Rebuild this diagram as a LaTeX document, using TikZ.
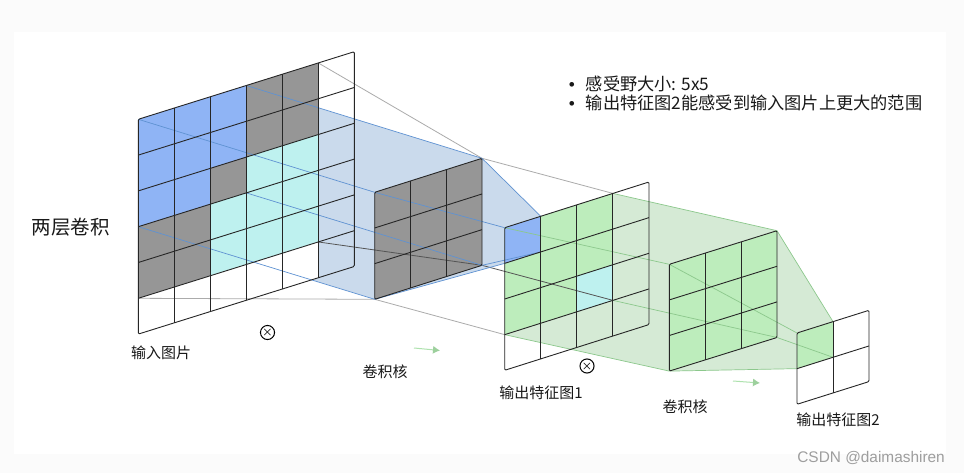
\documentclass[tikz,border=0pt]{standalone}
\usepackage{amsmath,amssymb,bm}
\usepackage{fontspec}
\setmainfont{Noto Sans CJK SC}
\newfontfamily\markfont{Liberation Sans}
\usepackage{tikz}
\usetikzlibrary{arrows.meta}

\definecolor{cellblue}{HTML}{8FB4F5}
\definecolor{cellgray}{HTML}{969696}
\definecolor{cellcyan}{HTML}{BEF1EF}
\definecolor{cellgreen}{HTML}{BDEDBC}
\definecolor{paleblue}{HTML}{CADAEC}
\definecolor{palegreen}{HTML}{D5EAD5}
\definecolor{lineblue}{HTML}{5F92D2}
\definecolor{linegreen}{HTML}{8CC88C}
\definecolor{linegray}{HTML}{ABABAB}
\definecolor{linedark}{HTML}{555555}

\tikzset{
  gridline/.style={draw=black!85, line width=0.9pt},
  gridframe/.style={draw=black!85, line width=0.9pt, rounded corners=1.2pt},
  blueline/.style={draw=lineblue, line width=0.7pt},
  greenline/.style={draw=linegreen, line width=0.7pt},
  grayline/.style={draw=linegray, line width=0.8pt},
  darkline/.style={draw=linedark, line width=0.8pt},
  caption/.style={inner sep=0pt, font=\fontsize{15}{17}\selectfont, text=black!90},
  bullettext/.style={inner sep=0pt, anchor=west, font=\fontsize{17.2}{20}\selectfont, text=black!90},
  convmark/.style={circle, draw=black, line width=1pt, inner sep=0pt, minimum size=12.5pt, font=\fontsize{13}{13}\selectfont},
  moveline/.style={draw=cellgreen!70!linegreen, line width=1pt, -{Latex[length=7pt,width=8pt,color=linegreen!85!white]}},
}

% name, x, y, cells, step x, step y per column, step y per row
\newcommand{\gridpts}[7]{
  \foreach \i in {0,...,#4}
    \foreach \j in {0,...,#4}
      \coordinate (#1-\i-\j) at ({#2+\i*#5},{#3+\i*#6+\j*#7});
}
\newcommand{\cellfill}[4]{
  \pgfmathtruncatemacro\nxi{#2+1}
  \pgfmathtruncatemacro\nxj{#3+1}
  \fill[#4] (#1-#2-#3) -- (#1-\nxi-#3) -- (#1-\nxi-\nxj) -- (#1-#2-\nxj) -- cycle;
}
\newcommand{\gridlines}[2]{
  \pgfmathtruncatemacro\lastk{#2-1}
  \foreach \k in {1,...,\lastk} {
    \draw[gridline] (#1-\k-0) -- (#1-\k-#2);
    \draw[gridline] (#1-0-\k) -- (#1-#2-\k);
  }
  \draw[gridframe] (#1-0-0) -- (#1-#2-0) -- (#1-#2-#2) -- (#1-0-#2) -- cycle;
}

\begin{document}
\begin{tikzpicture}[x=1pt, y=-1pt]
  \useasboundingbox (0,0) rectangle (964,473);
  \fill[black!1.5] (0,0) rectangle (964,473);
  \fill[white] (14,32) rectangle (946,454);

  \gridpts{inmap}{138.3}{119.3}{6}{36}{-11.27}{35.8}
  \gridpts{kernela}{374.7}{192.3}{3}{35.77}{-11.33}{35.67}
  \gridpts{outa}{504.7}{227.7}{4}{36.07}{-11.43}{35.65}
  \gridpts{kernelb}{669.3}{264.3}{3}{35.9}{-11.2}{35.6}
  \gridpts{outb}{797}{333}{2}{36}{-11.35}{35.65}

  % funnels
  \fill[paleblue] (inmap-3-0) -- (kernela-3-0) -- (outa-1-0) -- (outa-1-1) -- (outa-0-1) -- (kernela-0-3) -- (inmap-0-3) -- cycle;
  \fill[palegreen] (outa-3-0) -- (kernelb-3-0) -- (outb-1-0) -- (outb-1-1) -- (outb-0-1) -- (kernelb-0-3) -- (outa-0-3) -- cycle;

  % input image cells
  \foreach \i/\j in {0/0,1/0,2/0,0/1,1/1,2/1,0/2,1/2} {\cellfill{inmap}{\i}{\j}{cellblue}}
  \foreach \i/\j in {3/0,4/0,3/1,4/1,2/2,0/3,1/3,0/4,1/4} {\cellfill{inmap}{\i}{\j}{cellgray}}
  \foreach \i/\j in {3/2,4/2,2/3,3/3,4/3,2/4,3/4,4/4} {\cellfill{inmap}{\i}{\j}{cellcyan}}
  \foreach \i in {0,...,4} {\cellfill{inmap}{\i}{5}{white}}

  \foreach \i in {0,1,2} \foreach \j in {0,1,2} {
    \cellfill{kernela}{\i}{\j}{cellgray}
    \cellfill{kernelb}{\i}{\j}{cellgreen}
    \cellfill{outa}{\i}{\j}{cellgreen}
  }
  \cellfill{outa}{0}{0}{cellblue}
  \cellfill{outa}{2}{2}{cellcyan}
  \cellfill{outb}{0}{0}{cellgreen}

  % receptive field lines
  \draw[grayline] (inmap-5-0) -- (kernela-3-0) -- (outa-3-0);
  \draw[grayline] (inmap-0-5) -- (kernela-0-3) -- (outa-0-3);
  \draw[darkline] (inmap-5-5) -- (kernela-3-3) -- (outa-3-3);
  \draw[blueline] (inmap-0-0) -- (kernela-0-0) -- (outa-0-0);
  \draw[blueline] (inmap-3-0) -- (kernela-3-0) -- (outa-1-0);
  \draw[blueline] (inmap-0-3) -- (kernela-0-3) -- (outa-0-1);
  \draw[blueline] (inmap-3-3) -- (kernela-3-3) -- (outa-1-1);
  \draw[greenline] (outa-3-0) -- (kernelb-3-0) -- (outb-1-0);
  \draw[greenline] (outa-0-3) -- (kernelb-0-3) -- (outb-0-1);
  \draw[greenline] (outa-0-0) -- (kernelb-0-0) -- (outb-0-0);
  \draw[greenline] (outa-3-3) -- (kernelb-3-3) -- (outb-1-1);

  \gridlines{inmap}{6}
  \gridlines{kernela}{3}
  \gridlines{outa}{4}
  \gridlines{kernelb}{3}
  \gridlines{outb}{2}

  \node[convmark] (convone) at (267.5,332.5) {$\boldsymbol{\times}$};
  \node[convmark] (convtwo) at (587,366) {$\boldsymbol{\times}$};

  \coordinate (movea) at (414,348);
  \coordinate (moveaend) at (440,350.5);
  \coordinate (moveb) at (733,381);
  \coordinate (movebend) at (760,383);
  \draw[moveline] (movea) -- (moveaend);
  \draw[moveline] (moveb) -- (movebend);

  \node[inner sep=0pt, font=\fontsize{19.5}{22}\selectfont, text=black!90] (title) at (70.5,227) {两层卷积};
  \node[caption] (inlabel) at (161,353) {输入图片};
  \node[caption] (kernelalabel) at (385,372) {卷积核};
  \node[caption] (outalabel) at (541,393) {输出特征图1};
  \node[caption] (kernelblabel) at (685,407) {卷积核};
  \node[caption] (outblabel) at (838,420) {输出特征图2};
  \node[bullettext] (notea) at (568.7,83.5) {\makebox[17pt][l]{\markfont •}感受野大小: 5x5};
  \node[bullettext] (noteb) at (568.7,103) {\makebox[17pt][l]{\markfont •}输出特征图2能感受到输入图片上更大的范围};
  \node[inner sep=0pt, anchor=east, font=\markfont\fontsize{15.4}{17}\selectfont, text=black!38] (csdn) at (945,457.5) {CSDN @daimashiren};
\end{tikzpicture}
\end{document}
